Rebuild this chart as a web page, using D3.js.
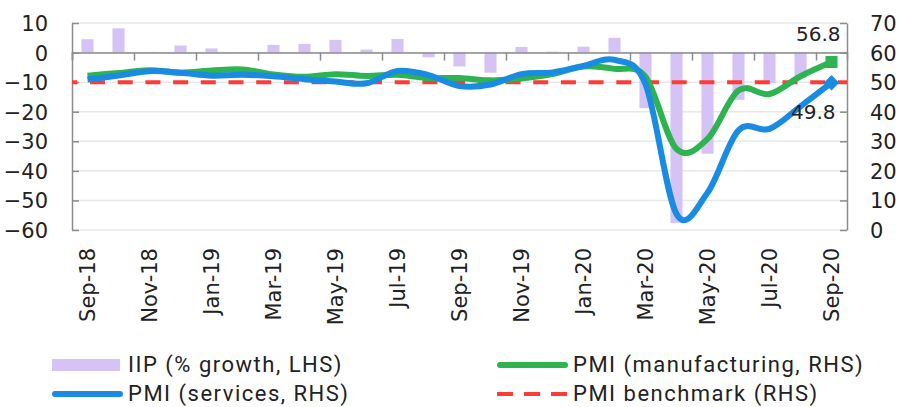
<!DOCTYPE html>
<html>
<head>
<meta charset="utf-8">
<script src="https://cdn.jsdelivr.net/npm/d3@7"></script>
<style>
  body { margin: 0; background: #fff; }
  svg { display: block; }
  .ax text { font-family: "DejaVu Sans", Verdana, sans-serif; fill: #222; }
  .legend text { font-family: "Roboto", "Noto Sans", sans-serif; font-size: 22px; letter-spacing: 1.5px; fill: #222; }
</style>
</head>
<body>
<svg width="900" height="407"></svg>
<script>
// months on the x axis
const months = ["Sep-18","Oct-18","Nov-18","Dec-18","Jan-19","Feb-19","Mar-19","Apr-19","May-19","Jun-19","Jul-19","Aug-19",
  "Sep-19","Oct-19","Nov-19","Dec-19","Jan-20","Feb-20","Mar-20","Apr-20","May-20","Jun-20","Jul-20","Aug-20","Sep-20"]
// IIP % growth (LHS)
const iip = [4.5, 8.2, 0.2, 2.4, 1.4, 0.1, 2.6, 2.9, 4.3, 1.0, 4.6, -1.6, -4.7, -6.8, 1.9, 0.3, 2.0, 5.0,
  -18.8, -57.6, -34.2, -16.0, -10.4, -8.5, 0.2]
// PMI manufacturing (RHS)
const pmiMfg = [52.2, 53.1, 54.0, 53.2, 53.9, 54.3, 52.6, 51.8, 52.7, 52.1, 52.5, 51.4,
  51.4, 50.6, 51.2, 52.7, 55.3, 54.5, 51.8, 27.4, 30.8, 47.2, 46.0, 52.0, 56.8]
// PMI services (RHS)
const pmiSvc = [50.9, 52.2, 53.7, 53.2, 52.2, 52.5, 52.0, 51.0, 50.2, 49.6, 53.8, 52.4,
  48.7, 49.2, 52.7, 53.3, 55.5, 57.5, 49.3, 5.4, 12.6, 33.7, 34.2, 41.8, 49.8]
const benchmark = 50
const leftTicks = [-60, -50, -40, -30, -20, -10, 0, 10]
const rightTicks = [0, 10, 20, 30, 40, 50, 60, 70]

const svg = d3.select("svg")
const pLeft = 72, pRight = 847, pTop = 23, pBottom = 230
const gray = "#8c8c8c"

let x = d3.scaleBand().domain(months).range([pLeft, pRight]).paddingInner(0.61).paddingOuter(0.305)
let cx = d => x(d) + x.bandwidth() / 2
let xi = d3.scaleLinear().domain([0, months.length]).range([pLeft, pRight])
let yL = d3.scaleLinear().domain([-60, 10]).range([pBottom, pTop])
let yR = d3.scaleLinear().domain([0, 70]).range([pBottom, pTop])

// gridlines
svg.append("g").selectAll("line").data(leftTicks).enter().append("line")
  .attr("x1", pLeft).attr("x2", pRight)
  .attr("y1", d => yL(d)).attr("y2", d => yL(d))
  .attr("stroke", "#e8e8e8").attr("stroke-width", 1.5)

// bars
svg.append("g").selectAll("rect").data(iip).enter().append("rect")
  .attr("x", (d, i) => x(months[i]))
  .attr("width", x.bandwidth())
  .attr("y", d => yL(Math.max(0, d)))
  .attr("height", d => Math.abs(yL(d) - yL(0)))
  .attr("fill", "#d5c3f5")

// zero line with category ticks
svg.append("g").attr("transform", `translate(0,${yL(0)})`)
  .call(d3.axisBottom(xi).tickValues(d3.range(0, months.length + 1, 2)).tickSize(8).tickFormat(""))
  .call(g => g.select(".domain").attr("stroke", gray).attr("stroke-width", 1.5))
  .call(g => g.selectAll(".tick line").attr("stroke", gray).attr("stroke-width", 1.5))

// left axis
svg.append("g").attr("class", "ax").attr("transform", `translate(${pLeft},0)`)
  .call(d3.axisLeft(yL).tickValues(leftTicks).tickSize(-7).tickPadding(24).tickSizeOuter(0))
  .call(g => g.selectAll("path, line").attr("stroke", gray).attr("stroke-width", 1.5))
  .call(g => g.selectAll("text").attr("font-size", 21).attr("dy", "0.36em"))

// right axis
svg.append("g").attr("class", "ax").attr("transform", `translate(${pRight},0)`)
  .call(d3.axisRight(yR).tickValues(rightTicks).tickSize(-7).tickPadding(23).tickSizeOuter(0))
  .call(g => g.selectAll("path, line").attr("stroke", gray).attr("stroke-width", 1.5))
  .call(g => g.selectAll("text").attr("font-size", 21).attr("dy", "0.36em"))

// x labels
svg.append("g").attr("class", "ax").attr("transform", `translate(0,${pBottom})`)
  .call(d3.axisBottom(x).tickValues(months.filter((m, i) => i % 2 == 0)).tickSize(0).tickPadding(0))
  .call(g => g.select(".domain").remove())
  .call(g => g.selectAll("text").attr("font-size", 21)
    .attr("transform", "rotate(-90)").attr("text-anchor", "end")
    .attr("x", -18).attr("y", 0).attr("dy", "0.36em"))

// benchmark
svg.append("line")
  .attr("x1", pLeft).attr("x2", pRight)
  .attr("y1", yR(benchmark)).attr("y2", yR(benchmark))
  .attr("stroke", "#ff3b33").attr("stroke-width", 4)
  .attr("stroke-dasharray", "15,12.7").attr("stroke-dashoffset", 9.7)

let line = d3.line().x((d, i) => cx(months[i])).y(d => yR(d)).curve(d3.curveCatmullRom.alpha(0))

svg.append("path").datum(pmiMfg).attr("d", line)
  .attr("fill", "none").attr("stroke", "#2db34f").attr("stroke-width", 6)
svg.append("path").datum(pmiSvc).attr("d", line)
  .attr("fill", "none").attr("stroke", "#1a8be3").attr("stroke-width", 6)

// end markers
let last = months.length - 1
svg.append("rect")
  .attr("x", cx(months[last]) - 6).attr("y", yR(pmiMfg[last]) - 6)
  .attr("width", 12).attr("height", 12).attr("fill", "#2db34f")
svg.append("path")
  .attr("d", d3.symbol(d3.symbolDiamond2, 150)())
  .attr("transform", `translate(${cx(months[last])},${yR(pmiSvc[last])})`)
  .attr("fill", "#1a8be3")

// data labels
svg.append("text")
  .attr("x", cx(months[last]) + 9).attr("y", yR(pmiMfg[last]) - 21)
  .attr("text-anchor", "end").attr("font-size", 20)
  .attr("font-family", "DejaVu Sans, sans-serif").attr("fill", "#222")
  .text(pmiMfg[last].toFixed(1))
svg.append("text")
  .attr("x", cx(months[last]) + 4).attr("y", yR(pmiSvc[last]) + 36)
  .attr("text-anchor", "end").attr("font-size", 20)
  .attr("font-family", "DejaVu Sans, sans-serif").attr("fill", "#222")
  .text(pmiSvc[last].toFixed(1))

// legend
let legend = svg.append("g").attr("class", "legend")
let items = [
  {name: "IIP (% growth, LHS)", type: "bar", color: "#d5c3f5", x: 52, y: 365},
  {name: "PMI (manufacturing, RHS)", type: "line", color: "#2db34f", x: 497, y: 365},
  {name: "PMI (services, RHS)", type: "line", color: "#1a8be3", x: 52, y: 394},
  {name: "PMI benchmark (RHS)", type: "dash", color: "#ff3b33", x: 497, y: 394}
]
items.forEach(it => {
  if (it.type == "bar") {
    legend.append("rect").attr("x", it.x).attr("y", it.y - 6).attr("width", 68).attr("height", 12).attr("fill", it.color)
  } else if (it.type == "dash") {
    legend.append("line").attr("x1", it.x).attr("x2", it.x + 70).attr("y1", it.y).attr("y2", it.y)
      .attr("stroke", it.color).attr("stroke-width", 4).attr("stroke-dasharray", "16,11")
  } else {
    legend.append("line").attr("x1", it.x + 3).attr("x2", it.x + 68).attr("y1", it.y).attr("y2", it.y)
      .attr("stroke", it.color).attr("stroke-width", 6).attr("stroke-linecap", "round")
  }
  legend.append("text").attr("x", it.x + 76).attr("y", it.y).attr("dy", "0.34em").text(it.name)
})
</script>
</body>
</html>
